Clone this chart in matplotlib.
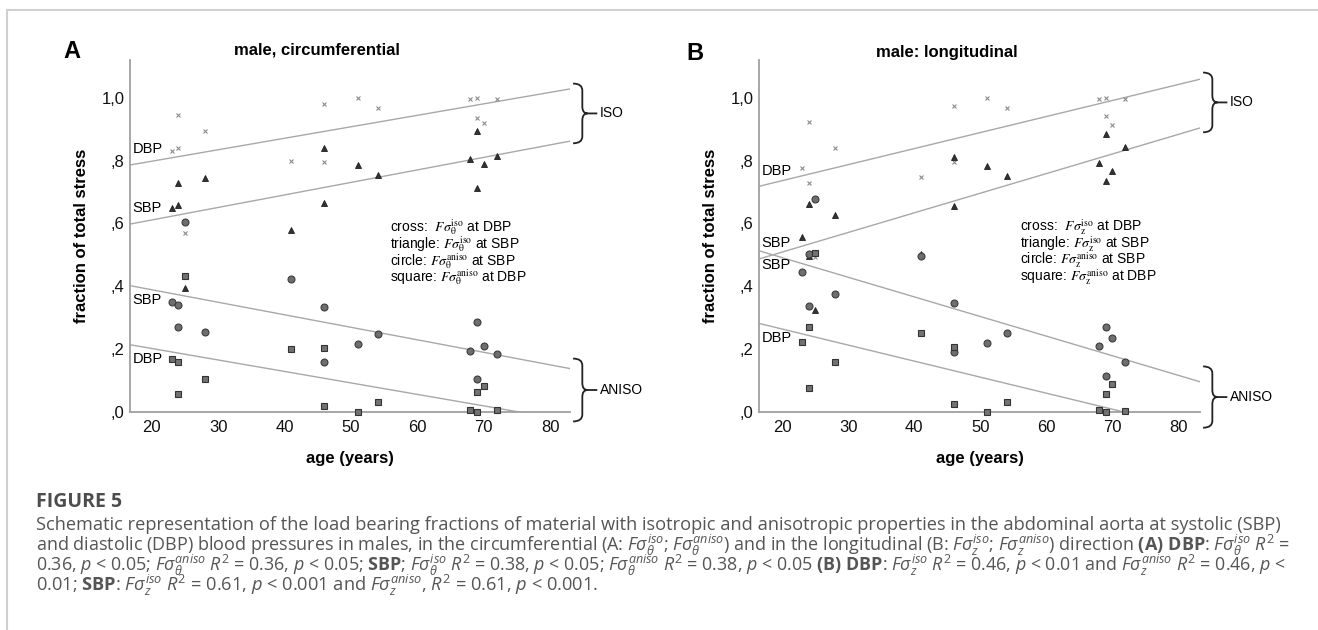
import matplotlib
matplotlib.use("Agg")
import matplotlib.pyplot as plt
import numpy as np
from matplotlib.path import Path
from matplotlib.patches import PathPatch
from matplotlib.transforms import blended_transform_factory

plt.rcParams['font.family'] = ['Liberation Sans', 'DejaVu Sans']
plt.rcParams['mathtext.fontset'] = 'custom'
plt.rcParams['mathtext.rm'] = 'Open Sans'
plt.rcParams['mathtext.it'] = 'Open Sans:italic'
plt.rcParams['mathtext.bf'] = 'Open Sans:bold'
plt.rcParams['mathtext.fallback'] = 'stixsans'

W, H = 1318, 630

# same 15 subjects in both panels
ages = [23, 24, 24, 25, 28, 41, 46, 46, 51, 54, 68, 69, 69, 70, 72]

# A: circumferential
cross_a = [0.83, 0.84, 0.945, 0.57, 0.895, 0.80, 0.98, 0.795, 1.0, 0.968, 0.995, 1.0, 0.935, 0.918, 0.995]
tri_a = [0.65, 0.73, 0.66, 0.395, 0.745, 0.578, 0.84, 0.665, 0.785, 0.753, 0.805, 0.895, 0.713, 0.79, 0.815]
circ_a = [0.35, 0.27, 0.34, 0.605, 0.255, 0.422, 0.16, 0.335, 0.215, 0.247, 0.195, 0.105, 0.287, 0.21, 0.185]
square_a = [0.17, 0.16, 0.058, 0.432, 0.105, 0.20, 0.02, 0.205, 0.0, 0.032, 0.005, 0.0, 0.065, 0.082, 0.005]

# B: longitudinal
cross_b = [0.775, 0.73, 0.922, 0.493, 0.84, 0.748, 0.974, 0.795, 1.0, 0.968, 0.995, 0.999, 0.942, 0.912, 0.995]
tri_b = [0.556, 0.663, 0.497, 0.324, 0.628, 0.503, 0.812, 0.654, 0.782, 0.752, 0.793, 0.886, 0.734, 0.768, 0.843]
circ_b = [0.444, 0.338, 0.503, 0.678, 0.374, 0.497, 0.19, 0.346, 0.221, 0.25, 0.209, 0.116, 0.269, 0.234, 0.159]
square_b = [0.223, 0.271, 0.077, 0.507, 0.158, 0.252, 0.027, 0.207, 0.0, 0.032, 0.005, 0.0, 0.058, 0.089, 0.004]

# fit lines (intercept, slope): DBP iso, SBP iso, SBP aniso, DBP aniso
fit_names = ['DBP', 'SBP', 'SBP', 'DBP']
fit_a = [(0.725, 0.00365), (0.5315, 0.00398), (0.4685, -0.00398), (0.275, -0.00365)]
fit_b = [(0.634, 0.0051), (0.384, 0.00624), (0.616, -0.00624), (0.366, -0.0051)]

xticks = [20, 30, 40, 50, 60, 70, 80]
yticks = [0.0, 0.2, 0.4, 0.6, 0.8, 1.0]
ytick_labels = [',0', ',2', ',4', ',6', ',8', '1,0']

legend_a = [r'cross:  $F\sigma_{\mathrm{\theta}}^{\mathrm{iso}}$ at DBP',
            r'triangle: $F\sigma_{\mathrm{\theta}}^{\mathrm{iso}}$ at SBP',
            r'circle: $F\sigma_{\mathrm{\theta}}^{\mathrm{aniso}}$ at SBP',
            r'square: $F\sigma_{\mathrm{\theta}}^{\mathrm{aniso}}$ at DBP']
legend_b = [r'cross:  $F\sigma_{\mathrm{z}}^{\mathrm{iso}}$ at DBP',
            r'triangle: $F\sigma_{\mathrm{z}}^{\mathrm{iso}}$ at SBP',
            r'circle: $F\sigma_{\mathrm{z}}^{\mathrm{aniso}}$ at SBP',
            r'square: $F\sigma_{\mathrm{z}}^{\mathrm{aniso}}$ at DBP']

caption = [
    "Schematic representation of the load bearing fractions of material with isotropic and anisotropic "
    "properties in the abdominal aorta at systolic (SBP)",
    r"and diastolic (DBP) blood pressures in males, in the circumferential (A: $F\sigma_\theta^{iso}$; "
    r"$F\sigma_\theta^{aniso}$) and in the longitudinal (B: $F\sigma_z^{iso}$; $F\sigma_z^{aniso}$) direction "
    r"$\mathbf{(A)\ DBP}$: $F\sigma_\theta^{iso}$ $R^2$ =",
    r"0.36, $p$ < 0.05; $F\sigma_\theta^{aniso}$ $R^2$ = 0.36, $p$ < 0.05; $\mathbf{SBP}$; "
    r"$F\sigma_\theta^{iso}$ $R^2$ = 0.38, $p$ < 0.05; $F\sigma_\theta^{aniso}$ $R^2$ = 0.38, $p$ < 0.05 "
    r"$\mathbf{(B)\ DBP}$: $F\sigma_z^{iso}$ $R^2$ = 0.46, $p$ < 0.01 and $F\sigma_z^{aniso}$ $R^2$ = 0.46, $p$ <",
    r"0.01; $\mathbf{SBP}$: $F\sigma_z^{iso}$ $R^2$ = 0.61, $p$ < 0.001 and $F\sigma_z^{aniso}$, "
    r"$R^2$ = 0.61, $p$ < 0.001.",
]

fig = plt.figure(figsize=(W / 100, H / 100), dpi=100)


def fx(px):
    return px / W


def fy(py):
    return 1 - py / H


def brace(ax, y0, y1, label):
    tr = blended_transform_factory(ax.transAxes, ax.transData)
    xa, xs, xt, xd = 1.007, 1.028, 1.04, 1.062
    ym = (y0 + y1) / 2
    r = 0.022
    verts = [(xa, y1), (xs, y1), (xs, y1 - r), (xs, ym + r), (xs, ym), (xt, ym),
             (xs, ym), (xs, ym - r), (xs, y0 + r), (xs, y0), (xa, y0),
             (xt, ym), (xd, ym)]
    codes = [Path.MOVETO, Path.CURVE3, Path.CURVE3, Path.LINETO, Path.CURVE3, Path.CURVE3,
             Path.CURVE3, Path.CURVE3, Path.LINETO, Path.CURVE3, Path.CURVE3,
             Path.MOVETO, Path.LINETO]
    ax.add_patch(PathPatch(Path(verts, codes), transform=tr, fill=False,
                           lw=1.3, edgecolor='#222222', clip_on=False))
    ax.text(1.068, ym, label, transform=tr, va='center', ha='left',
            fontsize=10, clip_on=False)


def panel(rect, xlim, cross, tri, circ, square, fits, legend, braces):
    ax = fig.add_axes(rect)
    ax.set_xlim(*xlim)
    ax.set_ylim(0, 1.12)
    for s in ['top', 'right']:
        ax.spines[s].set_visible(False)
    for s in ['left', 'bottom']:
        ax.spines[s].set_color('#a0a0a0')
        ax.spines[s].set_linewidth(1.3)
    ax.set_xticks(xticks)
    ax.set_yticks(yticks)
    ax.set_yticklabels(ytick_labels)
    ax.tick_params(length=0, labelsize=12, colors='#111111')
    ax.tick_params(axis='x', pad=6)
    ax.tick_params(axis='y', pad=4)
    ax.set_xlabel('age (years)', fontsize=12, fontweight='bold', labelpad=11)
    ax.set_ylabel('fraction of total stress', fontsize=12, fontweight='bold', labelpad=9)

    xs = np.array(xlim)
    for i, (a, b) in enumerate(fits):
        ax.plot(xs, a + b * xs, color='#a8a8a8', lw=1.0, zorder=2)
        y0 = a + b * xlim[0]
        off = 0.05 if i < 2 else -0.045
        ax.text(xlim[0] + 0.35, y0 + off, fit_names[i], fontsize=10.5,
                va='center', ha='left')

    ax.plot(ages, cross, 'x', ms=3.2, mew=0.8, color='#8c8c8c', clip_on=False, zorder=3)
    ax.plot(ages, tri, '^', ms=4.2, mfc='#333333', mec='#1f1f1f', mew=0.6, clip_on=False, zorder=3)
    ax.plot(ages, circ, 'o', ms=5.0, mfc='#6e6e6e', mec='#3c3c3c', mew=0.8, clip_on=False, zorder=3)
    ax.plot(ages, square, 's', ms=4.8, mfc='#727272', mec='#333333', mew=0.8, clip_on=False, zorder=4)

    for k, t in enumerate(legend):
        ax.text(0.592, 0.524 - 0.047 * k, t, transform=ax.transAxes, fontsize=10,
                va='center', ha='left', math_fontfamily='stix')

    brace(ax, braces[0][0], braces[0][1], 'ISO')
    brace(ax, braces[1][0], braces[1][1], 'ANISO')
    return ax


ax_a = panel([fx(130), fy(412), fx(440), (412 - 60) / H], (16.7, 83.0),
             cross_a, tri_a, circ_a, square_a, fit_a, legend_a,
             [(0.855, 1.045), (-0.03, 0.17)])
ax_b = panel([fx(759), fy(412), fx(441), (412 - 60) / H], (16.5, 83.3),
             cross_b, tri_b, circ_b, square_b, fit_b, legend_b,
             [(0.89, 1.08), (-0.05, 0.145)])

# titles and panel letters
fig.text(fx(317), fy(50), 'male, circumferential', fontsize=12, fontweight='bold',
         ha='center', va='center')
fig.text(fx(947), fy(52), 'male: longitudinal', fontsize=12, fontweight='bold',
         ha='center', va='center')
fig.text(fx(63), fy(52), 'A', fontsize=17, fontweight='bold', ha='left', va='center')
fig.text(fx(686), fy(54), 'B', fontsize=17, fontweight='bold', ha='left', va='center')

# page frame
fig.add_artist(plt.Line2D([fx(7), 1], [fy(9.5), fy(9.5)], color='#d0d0d0', lw=1.5))
fig.add_artist(plt.Line2D([fx(7), fx(7)], [fy(9.5), 0], color='#d0d0d0', lw=1.5))

# caption
cap_font = ['Open Sans', 'DejaVu Sans']
fig.text(fx(36), fy(502), 'FIGURE 5', fontsize=14, fontweight='bold', color='#4d4d4d',
         family=cap_font, ha='left', va='center')
cap_texts = []
for k, line in enumerate(caption):
    t = fig.text(fx(36), fy(525 + 20 * k), line, fontsize=13.4, color='#555555',
                 family=cap_font, ha='left', va='center')
    cap_texts.append(t)

# the first three caption lines are justified to the same right edge
fig.canvas.draw()
renderer = fig.canvas.get_renderer()
target = 1288 - 36
for t in cap_texts[:3]:
    w = t.get_window_extent(renderer).width
    t.set_fontsize(t.get_fontsize() * target / w)
fig.canvas.draw()
w1 = cap_texts[0].get_fontsize()
cap_texts[3].set_fontsize(min(13.4, w1))

fig.savefig('out.png', dpi=100)
